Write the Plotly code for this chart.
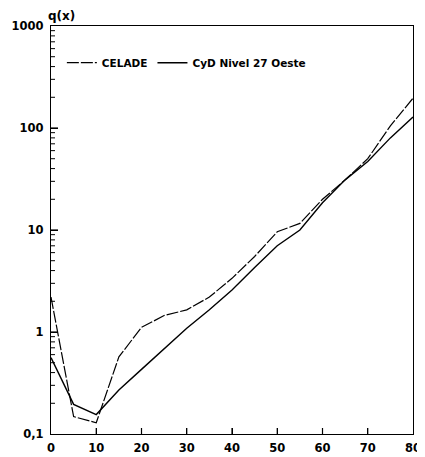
import math
import plotly.graph_objects as go

ages = [0, 5, 10, 15, 20, 25, 30, 35, 40, 45, 50, 55, 60, 65, 70, 75, 80]
celade = [2.2, 0.148, 0.129, 0.57, 1.11, 1.45, 1.65, 2.2, 3.36, 5.5, 9.6, 11.6, 20, 31, 50, 105, 196]
cyd = [0.56, 0.195, 0.155, 0.27, 0.43, 0.69, 1.09, 1.65, 2.58, 4.3, 7.0, 10.0, 18.5, 31, 47, 80, 128]

x_tickvals = [0, 10, 20, 30, 40, 50, 60, 70, 80]
y_tickvals = [0.1, 1, 10, 100, 1000]
y_ticktext = ["0,1", "1", "10", "100", "1000"]
minor_vals = [m * d for d in [0.1, 1, 10, 100] for m in range(2, 10)]

X_RANGE = [0, 80]
Y_LOG_RANGE = [-1, 3]
FONT = "DejaVu Sans, Verdana, sans-serif"

fig = go.Figure()
fig.add_trace(go.Scatter(x=ages, y=celade, mode="lines", name="CELADE",
                         line=dict(color="black", width=1.2, dash="12px,2px")))
fig.add_trace(go.Scatter(x=ages, y=cyd, mode="lines", name="CyD Nivel 27 Oeste",
                         line=dict(color="black", width=1.4)))

# plot area size in px (used to turn tick lengths into paper fractions)
PW, PH = 362, 408


def xfrac(v):
    return (v - X_RANGE[0]) / (X_RANGE[1] - X_RANGE[0])


def yfrac(v):
    return (math.log10(v) - Y_LOG_RANGE[0]) / (Y_LOG_RANGE[1] - Y_LOG_RANGE[0])


tick_shapes = []
for v in x_tickvals[1:-1]:
    tick_shapes.append(dict(type="line", xref="paper", yref="paper",
                            x0=xfrac(v), x1=xfrac(v), y0=0, y1=6 / PH,
                            line=dict(color="black", width=1.2)))
for v in y_tickvals[1:-1]:
    tick_shapes.append(dict(type="line", xref="paper", yref="paper",
                            x0=0, x1=7 / PW, y0=yfrac(v), y1=yfrac(v),
                            line=dict(color="black", width=1.2)))
for v in minor_vals:
    tick_shapes.append(dict(type="line", xref="paper", yref="paper",
                            x0=0, x1=4 / PW, y0=yfrac(v), y1=yfrac(v),
                            line=dict(color="black", width=1)))

# page body has an 8px default margin, so the figure is sized/offset to compensate
fig.update_layout(
    template="none",
    width=417, height=449,
    margin=dict(l=43, r=12, t=18, b=23, autoexpand=False),
    paper_bgcolor="white", plot_bgcolor="white",
    font=dict(family=FONT, color="black"),
    showlegend=True,
    legend=dict(orientation="h", x=0.03, y=0.91, xanchor="left", yanchor="middle",
                bgcolor="rgba(0,0,0,0)", font=dict(size=10.5, weight="bold", family=FONT),
                itemwidth=30),
    annotations=[dict(text="q(x)", x=-0.015, y=1.0, xref="paper", yref="paper",
                      xanchor="left", yanchor="bottom", yshift=1, showarrow=False,
                      font=dict(size=12, weight="bold", family=FONT))],
    shapes=tick_shapes,
    xaxis=dict(range=X_RANGE, tickmode="array", tickvals=x_tickvals,
               ticks="inside", ticklen=6, tickcolor="#000000", tickwidth=1,
               showline=True, linecolor="black", linewidth=1.2, mirror=True,
               showgrid=False, zeroline=False, automargin=False, ticklabelstandoff=3,
               tickfont=dict(size=11.5, weight="bold", family=FONT)),
    yaxis=dict(type="log", range=Y_LOG_RANGE, tickmode="array", tickvals=y_tickvals,
               ticktext=y_ticktext, ticks="inside", ticklen=7, tickcolor="#000000",
               tickwidth=1, showline=True, linecolor="black", linewidth=1.2, mirror=True,
               showgrid=False, zeroline=False, automargin=False, ticklabelstandoff=4,
               tickfont=dict(size=11.5, weight="bold", family=FONT)),
)

fig.write_html("out.html")
